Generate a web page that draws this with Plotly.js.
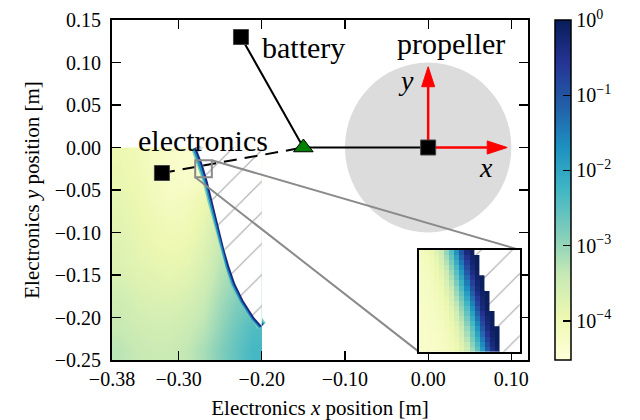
<!DOCTYPE html>
<html><head><meta charset="utf-8">
<script src="https://cdn.plot.ly/plotly-3.0.1.min.js"></script>
<style>html,body{margin:0;padding:0;background:#fff}#chart{width:640px;height:420px}</style>
</head><body><div id="chart"></div>
<script>
// ---------------- data ----------------
const xTicks = [-0.38, -0.30, -0.20, -0.10, 0.00, 0.10];
const yTicks = [0.15, 0.10, 0.05, 0.00, -0.05, -0.10, -0.15, -0.20, -0.25];
const xRange = [-0.38, 0.12];
const yRange = [-0.25, 0.15];
const cbTicks = [0, -1, -2, -3, -4];          // log10 of colour value
const cbRange = [-4.52, 0];

// main map (log10 values), cell centres, rows listed top -> bottom
const mapX = [-0.37, -0.35, -0.33, -0.31, -0.29, -0.27, -0.25, -0.23, -0.21];
const mapY = [-0.0125, -0.0375, -0.0625, -0.0875, -0.1125, -0.1375, -0.1625, -0.1875, -0.2125, -0.2375];
const mapRows = [
  [-3.95, -4.05, -4.20, -4.30, -4.35, -4.30, -4.20, -4.10, -4.00],
  [-3.90, -4.00, -4.15, -4.25, -4.30, -4.15, -3.90, -3.80, -3.70],
  [-3.85, -3.95, -4.10, -4.20, -4.15, -3.95, -3.65, -3.55, -3.50],
  [-3.80, -3.90, -4.00, -4.10, -4.05, -3.85, -3.50, -3.35, -3.30],
  [-3.75, -3.85, -3.95, -4.00, -3.95, -3.75, -3.40, -3.25, -3.20],
  [-3.70, -3.80, -3.85, -3.90, -3.85, -3.65, -3.30, -3.10, -3.05],
  [-3.60, -3.70, -3.75, -3.80, -3.72, -3.52, -3.20, -2.95, -2.90],
  [-3.50, -3.60, -3.65, -3.65, -3.58, -3.40, -3.08, -2.80, -2.65],
  [-3.40, -3.50, -3.55, -3.55, -3.45, -3.28, -2.98, -2.65, -2.40],
  [-3.30, -3.40, -3.45, -3.45, -3.35, -3.15, -2.85, -2.55, -2.30]
];
// feasibility boundary (right edge of the map)
const bndX = [-0.279, -0.271, -0.265, -0.260, -0.255, -0.250, -0.245, -0.239, -0.232, -0.222, -0.209, -0.200];
const bndY = [0.000, -0.020, -0.040, -0.060, -0.080, -0.100, -0.120, -0.140, -0.160, -0.180, -0.200, -0.210];

// components
const compNames = ['propeller', 'battery', 'electronics'];
const compX = [0.000, -0.225, -0.320];
const compY = [0.000, 0.130, -0.030];
const hubX = [-0.150];
const hubY = [0.000];
const propRadius = 0.10;
const frameArrowLen = 0.095;

// inset (zoomed map), log10 values, rows top -> bottom, cells of 0.001
const insetXRange = [-0.28, -0.26];
const insetYRange = [-0.035, -0.015];
const insetCell = 0.001;
const insetRows = [
  [-4.18,-4.10,-3.98,-3.78,-3.45,-3.00,-2.45,-1.75,-1.00,-0.35,-0.08],
  [-4.19,-4.12,-4.01,-3.83,-3.54,-3.12,-2.60,-1.94,-1.20,-0.53,-0.15,-0.04],
  [-4.21,-4.14,-4.05,-3.89,-3.63,-3.24,-2.75,-2.13,-1.41,-0.70,-0.23,-0.06],
  [-4.22,-4.17,-4.08,-3.94,-3.72,-3.36,-2.90,-2.32,-1.61,-0.88,-0.30,-0.07],
  [-4.23,-4.18,-4.11,-3.99,-3.80,-3.48,-3.04,-2.49,-1.81,-1.06,-0.40,-0.10],
  [-4.24,-4.20,-4.13,-4.02,-3.85,-3.57,-3.16,-2.64,-2.00,-1.26,-0.58,-0.17,-0.05],
  [-4.25,-4.21,-4.15,-4.05,-3.90,-3.65,-3.28,-2.79,-2.18,-1.47,-0.75,-0.25,-0.06],
  [-4.26,-4.22,-4.17,-4.09,-3.96,-3.74,-3.40,-2.94,-2.37,-1.67,-0.93,-0.32,-0.07],
  [-4.26,-4.24,-4.19,-4.11,-4.00,-3.81,-3.50,-3.07,-2.54,-1.86,-1.12,-0.45,-0.12,-0.04],
  [-4.27,-4.24,-4.20,-4.13,-4.03,-3.87,-3.59,-3.19,-2.69,-2.05,-1.32,-0.63,-0.20,-0.05],
  [-4.27,-4.25,-4.22,-4.16,-4.06,-3.92,-3.68,-3.32,-2.84,-2.24,-1.53,-0.81,-0.27,-0.07],
  [-4.28,-4.26,-4.23,-4.18,-4.10,-3.97,-3.77,-3.44,-2.98,-2.43,-1.73,-0.98,-0.34,-0.08],
  [-4.28,-4.26,-4.24,-4.19,-4.12,-4.01,-3.83,-3.53,-3.11,-2.58,-1.92,-1.18,-0.51,-0.14,-0.04],
  [-4.29,-4.27,-4.25,-4.21,-4.14,-4.04,-3.88,-3.62,-3.23,-2.73,-2.11,-1.38,-0.68,-0.22,-0.06],
  [-4.30,-4.28,-4.25,-4.22,-4.16,-4.07,-3.94,-3.71,-3.35,-2.88,-2.30,-1.59,-0.86,-0.29,-0.07],
  [-4.30,-4.28,-4.26,-4.23,-4.18,-4.10,-3.99,-3.79,-3.47,-3.02,-2.48,-1.79,-1.04,-0.38,-0.09,-0.03],
  [-4.30,-4.29,-4.27,-4.24,-4.20,-4.13,-4.02,-3.84,-3.56,-3.14,-2.63,-1.97,-1.24,-0.56,-0.17,-0.05],
  [-4.30,-4.29,-4.27,-4.25,-4.21,-4.15,-4.05,-3.90,-3.64,-3.27,-2.77,-2.16,-1.44,-0.73,-0.24,-0.06],
  [-4.30,-4.30,-4.28,-4.26,-4.22,-4.17,-4.08,-3.95,-3.73,-3.39,-2.92,-2.35,-1.65,-0.91,-0.31,-0.07],
  [-4.30,-4.30,-4.28,-4.26,-4.23,-4.19,-4.11,-4.00,-3.81,-3.49,-3.06,-2.52,-1.84,-1.10,-0.43,-0.12]
];
const insetDomX = [0.738, 0.980];
const insetDomY = [0.024, 0.324];

// ---------------- styling / building ----------------
const FONT = 'Liberation Serif, Times New Roman, serif';
const fmt = v => (v < 0 ? '\u2212' : '') + Math.abs(v).toFixed(2);
const cbText = cbTicks.map(v => '10<sup>' + (v < 0 ? '\u2212' + Math.abs(v) : v) + '</sup>');
const cscale = [[0,'#ffffd9'],[0.125,'#edf8b1'],[0.25,'#c7e9b4'],[0.375,'#7fcdbb'],[0.5,'#41b6c4'],
                [0.625,'#1d91c0'],[0.75,'#225ea8'],[0.875,'#253494'],[1,'#081d58']];

const traces = [];
// main heatmap
traces.push({
  type: 'heatmap', x: mapX, y: mapY.slice().reverse(), z: mapRows.slice().reverse(),
  zmin: cbRange[0], zmax: cbRange[1], colorscale: cscale, zsmooth: 'best', hoverinfo: 'skip',
  colorbar: {
    thickness: 16, len: 1, lenmode: 'fraction', y: 0.5, yanchor: 'middle', x: 1.065, xanchor: 'left',
    xpad: 0, ypad: 0, outlinewidth: 1.5, outlinecolor: 'black',
    tickvals: cbTicks, ticktext: cbText, ticks: 'inside', ticklen: 8, tickwidth: 1.3, tickcolor: 'black',
    tickfont: {family: FONT, size: 20, color: 'black'}
  }
});
// inset heatmap
const nInsetCols = Math.round((insetXRange[1] - insetXRange[0]) / insetCell);
const insetZ = insetRows.map(r => r.concat(Array(nInsetCols - r.length).fill(null))).reverse();
traces.push({
  type: 'heatmap', xaxis: 'x2', yaxis: 'y2', z: insetZ,
  x0: insetXRange[0] + insetCell / 2, dx: insetCell, y0: insetYRange[0] + insetCell / 2, dy: insetCell,
  zmin: cbRange[0], zmax: cbRange[1], colorscale: cscale, zsmooth: false, showscale: false, hoverinfo: 'skip'
});
// boundary band
[[10, '#7fcdbb'], [7, '#1d91c0'], [4, '#1a2a80']].forEach(([w, c]) => {
  traces.push({type: 'scatter', mode: 'lines', x: bndX, y: bndY, line: {color: c, width: w}, hoverinfo: 'skip'});
});
// hatched infeasible area (main)
const hatch = {shape: '/', fgcolor: '#a8a8a8', bgcolor: 'white', size: 22, solidity: 0.05, fillmode: 'replace'};
const last = bndX.length - 1;
traces.push({
  type: 'scatter', mode: 'lines', fill: 'toself', fillcolor: 'white', fillpattern: hatch,
  x: bndX.concat([bndX[last], bndX[0]]), y: bndY.concat([bndY[0], bndY[0]]),
  line: {width: 0, color: 'rgba(0,0,0,0)'}, hoverinfo: 'skip'
});
// hatched area (inset) from the staircase of the inset rows
const hx = [], hy = [];
insetRows.forEach((r, i) => {
  const xe = insetXRange[0] + r.length * insetCell;
  const yt = insetYRange[1] - i * insetCell;
  hx.push(xe, xe); hy.push(yt, yt - insetCell);
});
hx.push(insetXRange[1] + insetCell, insetXRange[1] + insetCell); hy.push(insetYRange[0], insetYRange[1]);
traces.push({
  type: 'scatter', mode: 'lines', fill: 'toself', fillcolor: 'white', fillpattern: hatch,
  xaxis: 'x2', yaxis: 'y2', x: hx, y: hy, line: {width: 0, color: 'rgba(0,0,0,0)'}, hoverinfo: 'skip'
});
// connector lines from zoom box to inset
const mx = f => xRange[0] + f * (xRange[1] - xRange[0]);
const my = f => yRange[0] + f * (yRange[1] - yRange[0]);
traces.push({type: 'scatter', mode: 'lines', x: [insetXRange[1], mx(insetDomX[1])], y: [insetYRange[1], my(insetDomY[1])],
  line: {color: '#8a8a8a', width: 2}, hoverinfo: 'skip'});
traces.push({type: 'scatter', mode: 'lines', x: [insetXRange[0], mx(insetDomX[0])], y: [insetYRange[0], my(insetDomY[0])],
  line: {color: '#8a8a8a', width: 2}, hoverinfo: 'skip'});
// arms
traces.push({type: 'scatter', mode: 'lines', x: [compX[1], hubX[0], compX[0]], y: [compY[1], hubY[0], compY[0]],
  line: {color: 'black', width: 2}, hoverinfo: 'skip'});
traces.push({type: 'scatter', mode: 'lines', x: [compX[2], hubX[0]], y: [compY[2], hubY[0]],
  line: {color: 'black', width: 2, dash: '13px,8px'}, hoverinfo: 'skip'});
// propeller frame arrows
const hlx = 0.024, hwy = 0.0077, hly = 0.0235, hwx = 0.0078;
const red = '#ff0000';
traces.push({type: 'scatter', mode: 'lines', x: [compX[0], compX[0] + frameArrowLen - hlx], y: [compY[0], compY[0]],
  line: {color: red, width: 2.5}, hoverinfo: 'skip'});
traces.push({type: 'scatter', mode: 'lines', x: [compX[0], compX[0]], y: [compY[0], compY[0] + frameArrowLen - hly],
  line: {color: red, width: 2.5}, hoverinfo: 'skip'});
const tx = compX[0] + frameArrowLen, ty = compY[0] + frameArrowLen;
traces.push({type: 'scatter', mode: 'lines', fill: 'toself', fillcolor: red, line: {color: red, width: 1},
  x: [tx, tx - hlx, tx - hlx, tx], y: [compY[0], compY[0] + hwy, compY[0] - hwy, compY[0]], hoverinfo: 'skip'});
traces.push({type: 'scatter', mode: 'lines', fill: 'toself', fillcolor: red, line: {color: red, width: 1},
  x: [compX[0], compX[0] - hwx, compX[0] + hwx, compX[0]], y: [ty, ty - hly, ty - hly, ty], hoverinfo: 'skip'});
// component markers
traces.push({type: 'scatter', mode: 'markers', x: compX, y: compY,
  marker: {symbol: 'square', size: 15, color: 'black', line: {color: '#444', width: 1}}, hoverinfo: 'skip'});
traces.push({type: 'scatter', mode: 'markers', x: hubX, y: hubY,
  marker: {symbol: 'triangle-up', size: 17, color: '#008000', line: {color: 'black', width: 1}}, hoverinfo: 'skip'});

const axBase = {
  showgrid: false, zeroline: false, showline: true, linecolor: 'black', linewidth: 2, mirror: 'ticks',
  ticks: 'inside', ticklen: 9, tickwidth: 1.3, tickcolor: 'black',
  tickfont: {family: FONT, size: 20, color: 'black'}
};
const layout = {
  width: 640, height: 420, margin: {l: 112, r: 112, t: 20, b: 60},
  paper_bgcolor: 'white', plot_bgcolor: 'white', showlegend: false,
  xaxis: Object.assign({}, axBase, {range: xRange, tickvals: xTicks, ticktext: xTicks.map(fmt), ticklabelstandoff: 0,
    title: {text: 'Electronics <i>x</i> position [m]', font: {family: FONT, size: 21, color: 'black'}, standoff: 13}}),
  yaxis: Object.assign({}, axBase, {range: yRange, tickvals: yTicks, ticktext: yTicks.map(fmt), ticklabelstandoff: 5,
    title: {text: 'Electronics <i>y</i> position [m]', font: {family: FONT, size: 21, color: 'black'}, standoff: 9}}),
  xaxis2: {domain: insetDomX, range: insetXRange, anchor: 'y2', showgrid: false, zeroline: false, showticklabels: false,
    ticks: '', showline: true, mirror: true, linecolor: 'black', linewidth: 2},
  yaxis2: {domain: insetDomY, range: insetYRange, anchor: 'x2', showgrid: false, zeroline: false, showticklabels: false,
    ticks: '', showline: true, mirror: true, linecolor: 'black', linewidth: 2},
  shapes: [
    {type: 'circle', xref: 'x', yref: 'y', x0: compX[0] - propRadius, x1: compX[0] + propRadius,
     y0: compY[0] - propRadius, y1: compY[0] + propRadius, fillcolor: '#dcdcdc', line: {width: 0}, layer: 'below'},
    {type: 'rect', xref: 'x', yref: 'y', x0: insetXRange[0], x1: insetXRange[1], y0: insetYRange[0], y1: insetYRange[1],
     line: {color: '#8a8a8a', width: 2}, fillcolor: 'rgba(0,0,0,0)', layer: 'above'}
  ],
  annotations: [
    {text: compNames[1], x: -0.150, y: 0.118, size: 30},
    {text: compNames[0], x: 0.027, y: 0.122, size: 30},
    {text: compNames[2], x: -0.271, y: 0.0085, size: 30},
    {text: '<i>x</i>', x: 0.069, y: -0.023, size: 28},
    {text: '<i>y</i>', x: -0.027, y: 0.079, size: 28}
  ].map(a => ({xref: 'x', yref: 'y', showarrow: false, xanchor: 'center', yanchor: 'middle',
    text: a.text, x: a.x, y: a.y, font: {family: FONT, size: a.size, color: 'black'}}))
};
Plotly.newPlot('chart', traces, layout, {displayModeBar: false, staticPlot: true});
</script></body></html>
